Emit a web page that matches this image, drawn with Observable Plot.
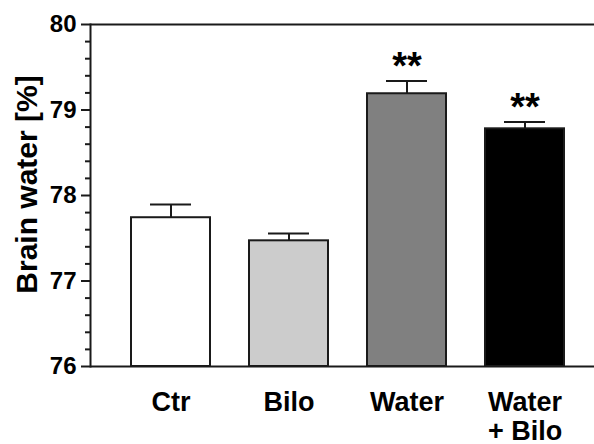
<!DOCTYPE html>
<html>
<head>
<meta charset="utf-8">
<script src="https://cdn.jsdelivr.net/npm/d3@7"></script>
<script src="https://cdn.jsdelivr.net/npm/@observablehq/plot@0.6"></script>
<style>
  html, body { margin: 0; padding: 0; background: #fff; }
  #chart svg { display: block; }
</style>
</head>
<body>
<div id="chart"></div>
<script>
const groups = ["Ctr", "Bilo", "Water", "Water\n+ Bilo"];
const values = [77.74, 77.47, 79.19, 78.78];
const sems = [0.155, 0.085, 0.15, 0.08];
const colors = ["#ffffff", "#cccccc", "#808080", "#000000"];
const stars = ["", "", "**", "**"];
const majorTicks = [76, 77, 78, 79, 80];
const minorTicks = [76.2, 76.4, 76.6, 76.8, 77.2, 77.4, 77.6, 77.8, 78.2, 78.4, 78.6, 78.8, 79.2, 79.4, 79.6, 79.8];

const data = groups.map((g, i) => ({
  group: g, value: values[i], sem: sems[i], color: colors[i], star: stars[i]
}));

const ink = "#1a1a1a";
const font = "'Liberation Sans', Arial, Helvetica, sans-serif";

const chart = Plot.plot({
  width: 594,
  height: 444,
  marginTop: 24,
  marginBottom: 78,
  marginLeft: 90,
  marginRight: 0,
  style: { fontFamily: font, background: "#fff", color: ink, overflow: "visible" },
  x: { domain: groups, range: [90.5, 604], paddingInner: 0.333, paddingOuter: 0.337, axis: null },
  y: { domain: [76, 80], axis: null },
  marks: [
    Plot.barY(data, {x: "group", y1: 76, y2: "value", fill: "color", stroke: ink, strokeWidth: 2}),
    Plot.ruleX(data, {x: "group", y1: "value", y2: d => d.value + d.sem, stroke: ink, strokeWidth: 2}),
    Plot.tickY(data, {x: "group", y: d => d.value + d.sem, stroke: ink, strokeWidth: 2, insetLeft: 19, insetRight: 19}),
    Plot.text(data, {x: "group", y: d => d.value + d.sem, text: "star", dy: -2, fontSize: 38, fontWeight: "bold", fill: "#000", lineAnchor: "bottom"}),
    Plot.ruleY([76, 80], {stroke: ink, strokeWidth: 2}),
    Plot.frame({anchor: "left", stroke: ink, strokeWidth: 2}),
    Plot.axisY({ticks: minorTicks, tickSize: 5, stroke: ink, strokeWidth: 2, tickFormat: () => "", label: null}),
    Plot.axisY({ticks: majorTicks, tickSize: 9, tickPadding: 5, tickFormat: "d", fontSize: 24, fontWeight: "bold", fill: "#000", stroke: ink, strokeWidth: 2, label: null}),
    Plot.axisX({tickSize: 0, tickPadding: 23, fontSize: 27, fontWeight: "bold", fill: "#000", lineHeight: 1.1, label: null}),
    Plot.text(["Brain water [%]"], {frameAnchor: "left", textAnchor: "middle", rotate: -90, dx: -63, dy: -11, fontSize: 30, fontWeight: "bold", fill: "#000"})
  ]
});
document.getElementById("chart").appendChild(chart);
</script>
</body>
</html>
